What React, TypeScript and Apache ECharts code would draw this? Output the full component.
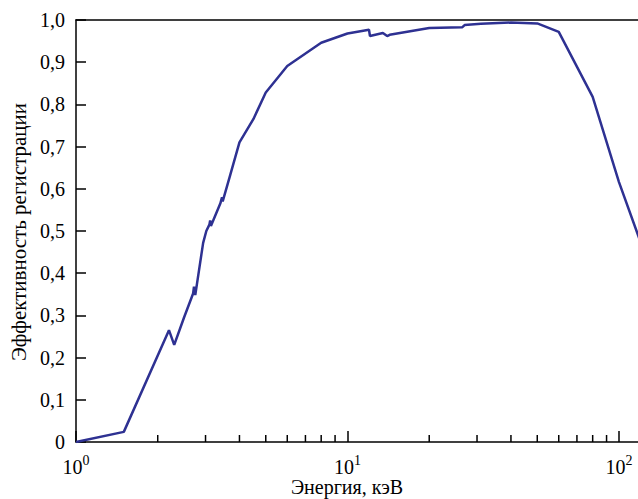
import React, { useEffect, useRef } from 'react';
import * as echarts from 'echarts';

const energy = [1, 1.5, 2.2, 2.3, 2.5, 2.7, 2.72, 2.75, 2.94, 3.02, 3.1, 3.12, 3.14, 3.4, 3.45, 3.47, 3.7, 4.0, 4.5, 5.0, 6, 8, 10, 12, 12.1, 13.5, 14, 14.3, 20, 26.5, 27, 31, 40, 50, 60, 80, 100, 120];
const efficiency = [0, 0.024, 0.265, 0.23, 0.295, 0.352, 0.368, 0.348, 0.472, 0.5, 0.515, 0.525, 0.512, 0.565, 0.58, 0.57, 0.633, 0.71, 0.765, 0.828, 0.891, 0.946, 0.968, 0.977, 0.962, 0.969, 0.962, 0.965, 0.981, 0.983, 0.988, 0.991, 0.994, 0.992, 0.972, 0.818, 0.616, 0.474];
const minorTickValues = [2, 3, 4, 5, 6, 7, 8, 9, 20, 30, 40, 50, 60, 70, 80, 90];
const xTitle = 'Энергия, кэВ';
const yTitle = 'Эффективность регистрации';

const FONT = '"Liberation Serif", "Times New Roman", serif';

export default function App() {
  const ref = useRef<HTMLDivElement>(null);
  useEffect(() => {
    if (!ref.current) return;
    const chart = echarts.init(ref.current, undefined, { renderer: 'svg' });
    const lineData = energy.map((e, i) => [e, efficiency[i]]);
    const minorData = minorTickValues.map((v) => [v, 0]);
    chart.setOption({
      animation: false,
      backgroundColor: '#ffffff',
      grid: { left: 76, right: 0, top: 20, bottom: 57 },
      xAxis: [
        {
          type: 'log',
          logBase: 10,
          min: 1,
          max: 117.5,
          axisLine: { show: true, lineStyle: { color: '#000', width: 1.5 } },
          axisTick: { show: true, inside: true, length: 11, lineStyle: { color: '#000', width: 1.5 } },
          splitLine: { show: false },
          minorTick: { show: false },
          axisLabel: {
            color: '#000',
            margin: 11,
            showMaxLabel: false,
            formatter: (v: number) => {
              const l = Math.log10(v);
              const e = Math.round(l);
              if (Math.abs(l - e) > 1e-6) return '';
              return `{b|10}{s|${e}}`;
            },
            rich: {
              b: { fontFamily: FONT, fontSize: 20, lineHeight: 24, color: '#000', verticalAlign: 'bottom' },
              s: { fontFamily: FONT, fontSize: 14, lineHeight: 14, color: '#000', verticalAlign: 'top' },
            },
          },
        },
        {
          type: 'log',
          logBase: 10,
          min: 1,
          max: 117.5,
          position: 'top',
          axisLine: { show: true, lineStyle: { color: '#000', width: 1.5 } },
          axisTick: { show: false },
          axisLabel: { show: false },
          splitLine: { show: false },
        },
      ],
      yAxis: {
        type: 'value',
        min: 0,
        max: 1,
        interval: 0.1,
        axisLine: { show: true, lineStyle: { color: '#000', width: 1.5 } },
        axisTick: { show: true, inside: true, length: 10, lineStyle: { color: '#000', width: 1.5 } },
        splitLine: { show: false },
        axisLabel: {
          color: '#000',
          fontFamily: FONT,
          fontSize: 20,
          margin: 11,
          formatter: (v: number) => (v === 0 ? '0' : v.toFixed(1).replace('.', ',')),
        },
      },
      series: [
        {
          type: 'line',
          data: lineData,
          showSymbol: false,
          symbol: 'none',
          clip: true,
          lineStyle: { color: '#2e3192', width: 2.5 },
          silent: true,
        },
        {
          type: 'custom',
          data: minorData,
          silent: true,
          encode: { x: 0, y: 1 },
          renderItem: (params: any, api: any) => {
            const p = api.coord([api.value(0), api.value(1)]);
            return {
              type: 'line',
              shape: { x1: p[0], y1: p[1], x2: p[0], y2: p[1] - 7 },
              style: { stroke: '#000', lineWidth: 1.5 },
            };
          },
        },
      ],
      graphic: [
        {
          type: 'text',
          x: 347,
          y: 487,
          style: { text: xTitle, font: `20px ${FONT}`, fill: '#000', align: 'center', verticalAlign: 'middle' },
        },
        {
          type: 'text',
          x: 19,
          y: 232,
          rotation: Math.PI / 2,
          style: { text: yTitle, font: `21px ${FONT}`, fill: '#000', align: 'center', verticalAlign: 'middle' },
        },
      ],
    });
    return () => chart.dispose();
  }, []);
  return <div ref={ref} style={{ position: 'fixed', left: 0, top: 0, width: 638, height: 499 }} />;
}
